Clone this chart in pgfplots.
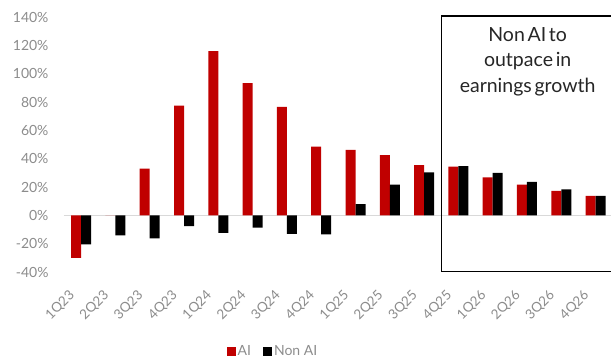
\documentclass[border=0pt]{standalone}
\usepackage{pgfplots}
\pgfplotsset{compat=1.18}
\usepackage{fontspec}
\setmainfont{Lato}
\definecolor{aired}{HTML}{C00000}
\definecolor{ticktxt}{HTML}{8C8C8C}
\definecolor{zeroline}{HTML}{D9D9D9}
\newcommand\boxfont{\fontsize{19.5}{25.5}\selectfont\spaceskip 0.14em\relax}
\begin{document}
\begin{tikzpicture}
\path[use as bounding box] (0,0) rectangle (611pt,362pt);
\begin{axis}[
  at={(64pt,90pt)}, anchor=south west,
  scale only axis, width=547pt, height=255pt,
  xmin=-0.5, xmax=15.45, ymin=-40, ymax=140,
  axis line style={draw=none},
  clip=false,
  ybar=0pt, bar width=10pt,
  xtick={0,...,15},
  xticklabels={1Q23,2Q23,3Q23,4Q23,1Q24,2Q24,3Q24,4Q24,1Q25,2Q25,3Q25,4Q25,1Q26,2Q26,3Q26,4Q26},
  ytick={-40,-20,...,140},
  yticklabel={\pgfmathprintnumber{\tick}\%},
  /pgf/number format/assume math mode=true,
  yticklabel style={font=\fontsize{14}{16}\selectfont, text=ticktxt, anchor=east, xshift=-12pt},
  xticklabel style={font=\fontsize{13.5}{16}\selectfont, text=ticktxt, xshift=-13pt, yshift=-3pt, rotate=45, anchor=north east, inner sep=0pt},
  xticklabel shift=14pt,
  major tick length=0pt,
  tick style={draw=none},
  legend style={at={(0.382,-0.31)}, anchor=center, draw=none, fill=none,
    font=\fontsize{14}{16}\selectfont, text=ticktxt, legend columns=2,
    /tikz/every even column/.append style={column sep=10pt}},
  legend image code/.code={\fill[#1] (0pt,-5pt) rectangle (9pt,4pt);},
]
\draw[zeroline, line width=1pt] (axis cs:-0.5,0) -- (axis cs:15.45,0);
\addplot[fill=aired, draw=none] coordinates {
 (0,-30) (1,0) (2,33) (3,77.5) (4,116) (5,93.3) (6,76.5) (7,48.5)
 (8,46.2) (9,42.5) (10,35.5) (11,34.3) (12,26.8) (13,21.7) (14,17.3) (15,13.8)};
\addplot[fill=black, draw=none] coordinates {
 (0,-20.5) (1,-14.2) (2,-16.3) (3,-7.7) (4,-12.4) (5,-8.6) (6,-13.1) (7,-13.5)
 (8,7.9) (9,21.7) (10,30.3) (11,34.8) (12,29.9) (13,23.6) (14,18.4) (15,13.8)};
\legend{AI,Non AI}
\draw[black, line width=1.3pt] (axis cs:10.5,140.8) rectangle (axis cs:16.2,-39.6);
\node[align=center, font=\boxfont, text=black!85] at (axis cs:13.02,108.4) {Non AI to\\outpace in\\earnings growth};
\end{axis}
\end{tikzpicture}
\end{document}
